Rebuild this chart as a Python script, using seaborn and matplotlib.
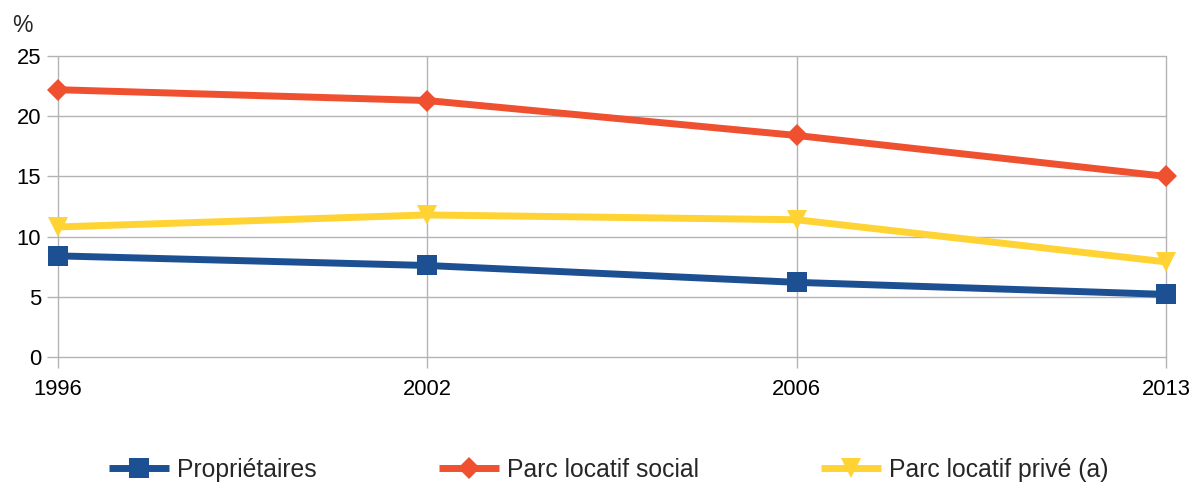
import matplotlib
matplotlib.use("Agg")
import matplotlib.pyplot as plt
import seaborn as sns
import pandas as pd

years = ["1996", "2002", "2006", "2013"]
proprietaires = [8.4, 7.6, 6.2, 5.2]
parc_social = [22.2, 21.3, 18.4, 15.0]
parc_prive = [10.8, 11.8, 11.4, 7.9]
series_names = ["Propriétaires", "Parc locatif social", "Parc locatif privé (a)"]
y_ticks = [0, 5, 10, 15, 20, 25]

sns.set_theme(style="white")
plt.rcParams["font.family"] = ["Liberation Sans", "DejaVu Sans"]

colors = ["#1d5092", "#ef5130", "#ffd333"]
markers = ["s", "D", "v"]
msizes = [14, 11, 15]

rows = []
for name, vals in zip(series_names, [proprietaires, parc_social, parc_prive]):
    for i, v in enumerate(vals):
        rows.append({"pos": i, "val": v, "serie": name})
df = pd.DataFrame(rows)

fig = plt.figure(figsize=(11.92, 4.84), dpi=100)
ax = fig.add_axes([58 / 1192, 1 - 357 / 484, (1166 - 58) / 1192, (357 - 56) / 484])

for name, c, m, ms in zip(series_names, colors, markers, msizes):
    sub = df[df["serie"] == name]
    sns.lineplot(data=sub, x="pos", y="val", ax=ax, color=c, linewidth=5,
                 marker=m, markersize=ms, markeredgewidth=0, label=name,
                 clip_on=False, zorder=3, solid_capstyle="butt")

ax.set_xlim(0, len(years) - 1)
ax.set_ylim(0, 25)
ax.set_xticks(range(len(years)))
ax.set_xticklabels(years)
ax.set_yticks(y_ticks)
ax.set_xlabel("")
ax.set_ylabel("")
for s in ax.spines.values():
    s.set_visible(False)
ax.grid(True, color="#b3b3b3", linewidth=1)
for gl in ax.get_xgridlines() + ax.get_ygridlines():
    gl.set_clip_on(False)
ax.tick_params(axis="both", length=8, width=1, color="#b3b3b3",
               labelsize=15.8, labelcolor="black")
ax.tick_params(axis="x", pad=8, direction="out", bottom=True)
ax.tick_params(axis="y", left=True, pad=4)

fig.text(12 / 1192, 1 - 26 / 484, "%", fontsize=16.5, va="center", ha="left")

ax.get_legend().remove()
handles, labels = ax.get_legend_handles_labels()
fig.legend(handles, labels, loc="center", bbox_to_anchor=(609 / 1192, 14 / 484),
           ncol=3, frameon=False, fontsize=17.8, handlelength=2.43,
           columnspacing=4.94, handletextpad=0.32, borderaxespad=0)

fig.savefig("out.png", dpi=100)
